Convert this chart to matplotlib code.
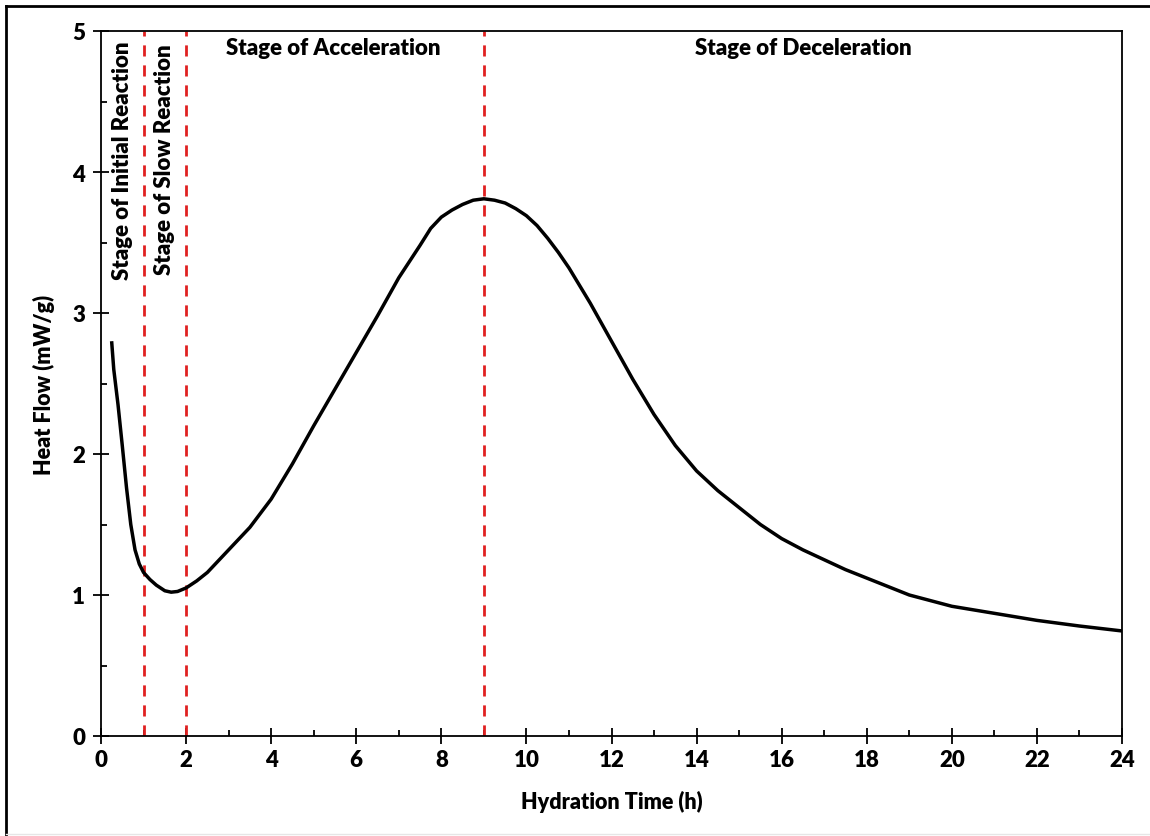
import matplotlib
matplotlib.use("Agg")
import matplotlib.pyplot as plt
from matplotlib.lines import Line2D
from matplotlib.ticker import MultipleLocator

# Isothermal calorimetry curve of cement hydration
hydration_time_h = [0.25, 0.3, 0.4, 0.5, 0.6, 0.7, 0.8, 0.9, 1.0, 1.15, 1.3, 1.5, 1.65, 1.8,
                    2.0, 2.25, 2.5, 3.0, 3.5, 4.0, 4.5, 5.0, 5.5, 6.0, 6.5, 7.0, 7.5, 7.75,
                    8.0, 8.25, 8.5, 8.75, 9.0, 9.25, 9.5, 9.75, 10.0, 10.25, 10.5, 10.75,
                    11.0, 11.5, 12.0, 12.5, 13.0, 13.5, 14.0, 14.5, 15.0, 15.5, 16.0, 16.5,
                    17.0, 17.5, 18.0, 18.5, 19.0, 19.5, 20.0, 21.0, 22.0, 23.0, 24.0]
heat_flow_mw_g = [2.80, 2.60, 2.35, 2.06, 1.76, 1.50, 1.32, 1.22, 1.16, 1.11, 1.07, 1.03, 1.02, 1.025,
                  1.05, 1.10, 1.16, 1.32, 1.48, 1.68, 1.93, 2.20, 2.46, 2.72, 2.98, 3.25, 3.48, 3.60,
                  3.68, 3.73, 3.77, 3.80, 3.81, 3.80, 3.78, 3.74, 3.69, 3.62, 3.53, 3.43,
                  3.32, 3.07, 2.80, 2.53, 2.28, 2.06, 1.88, 1.74, 1.62, 1.50, 1.40, 1.32,
                  1.25, 1.18, 1.12, 1.06, 1.00, 0.96, 0.92, 0.87, 0.82, 0.78, 0.745]

# Stage boundaries (h)
stage_bounds = [1, 2, 9]
stage_names_vertical = ["Stage of Initial Reaction", "Stage of Slow Reaction"]
stage_names_horizontal = ["Stage of Acceleration", "Stage of Deceleration"]

x_ticks = list(range(0, 25, 2))
y_ticks = [0, 1, 2, 3, 4, 5]

FONT = "Lato"
WEIGHT = "heavy"
W, H = 1150, 837
fig = plt.figure(figsize=(W / 100, H / 100), dpi=100)
ax = fig.add_axes([101 / W, 1 - 737 / H, (1122 - 101) / W, (737 - 32) / H])

ax.plot(hydration_time_h, heat_flow_mw_g, color="black", lw=2.5,
        solid_capstyle="butt", solid_joinstyle="round", zorder=3)

for xb in stage_bounds:
    ax.plot([xb, xb], [0, 5], color="#e02020", lw=2, dashes=(4, 3.2), zorder=2)

ax.set_xlim(0, 24)
ax.set_ylim(0, 5)
ax.set_xticks(x_ticks)
ax.set_yticks(y_ticks)
ax.xaxis.set_minor_locator(MultipleLocator(1))
ax.yaxis.set_minor_locator(MultipleLocator(0.5))
ax.tick_params(which="major", direction="inout", length=11, width=1.3, color="black")
ax.tick_params(which="minor", direction="in", length=4.5, width=1.3, color="black")
ax.tick_params(axis="x", which="major", pad=4)
ax.tick_params(axis="y", which="major", pad=6)
for lab in ax.get_xticklabels() + ax.get_yticklabels():
    lab.set_fontfamily(FONT)
    lab.set_fontweight(WEIGHT)
    lab.set_fontsize(16)
for sp in ax.spines.values():
    sp.set_linewidth(1.3)

ax.set_xlabel("Hydration Time (h)", fontfamily=FONT, fontweight=WEIGHT, fontsize=15.5, labelpad=14)
ax.set_ylabel("Heat Flow (mW/g)", fontfamily=FONT, fontweight=WEIGHT, fontsize=15.5, labelpad=12)

txt_kw = dict(fontfamily=FONT, fontweight=WEIGHT, fontsize=16, color="black")
ax.text(0.5, 4.93, stage_names_vertical[0], rotation=90, ha="center", va="top", **txt_kw)
ax.text(1.5, 4.91, stage_names_vertical[1], rotation=90, ha="center", va="top", **txt_kw)
ax.text(5.45, 4.88, stage_names_horizontal[0], ha="center", va="center", **txt_kw)
ax.text(16.5, 4.88, stage_names_horizontal[1], ha="center", va="center", **txt_kw)

# Frame around the whole figure
fig.add_artist(Line2D([6 / W, 6 / W], [1 - 836 / H, 1 - 7 / H], color="black", lw=2,
                      transform=fig.transFigure))
fig.add_artist(Line2D([6 / W, 1.0], [1 - 7 / H, 1 - 7 / H], color="black", lw=2,
                      transform=fig.transFigure))
fig.add_artist(Line2D([6 / W, 1.0], [1 - 835 / H, 1 - 835 / H], color="#e6e6e6", lw=1,
                      transform=fig.transFigure))

fig.savefig("out.png", dpi=100)
